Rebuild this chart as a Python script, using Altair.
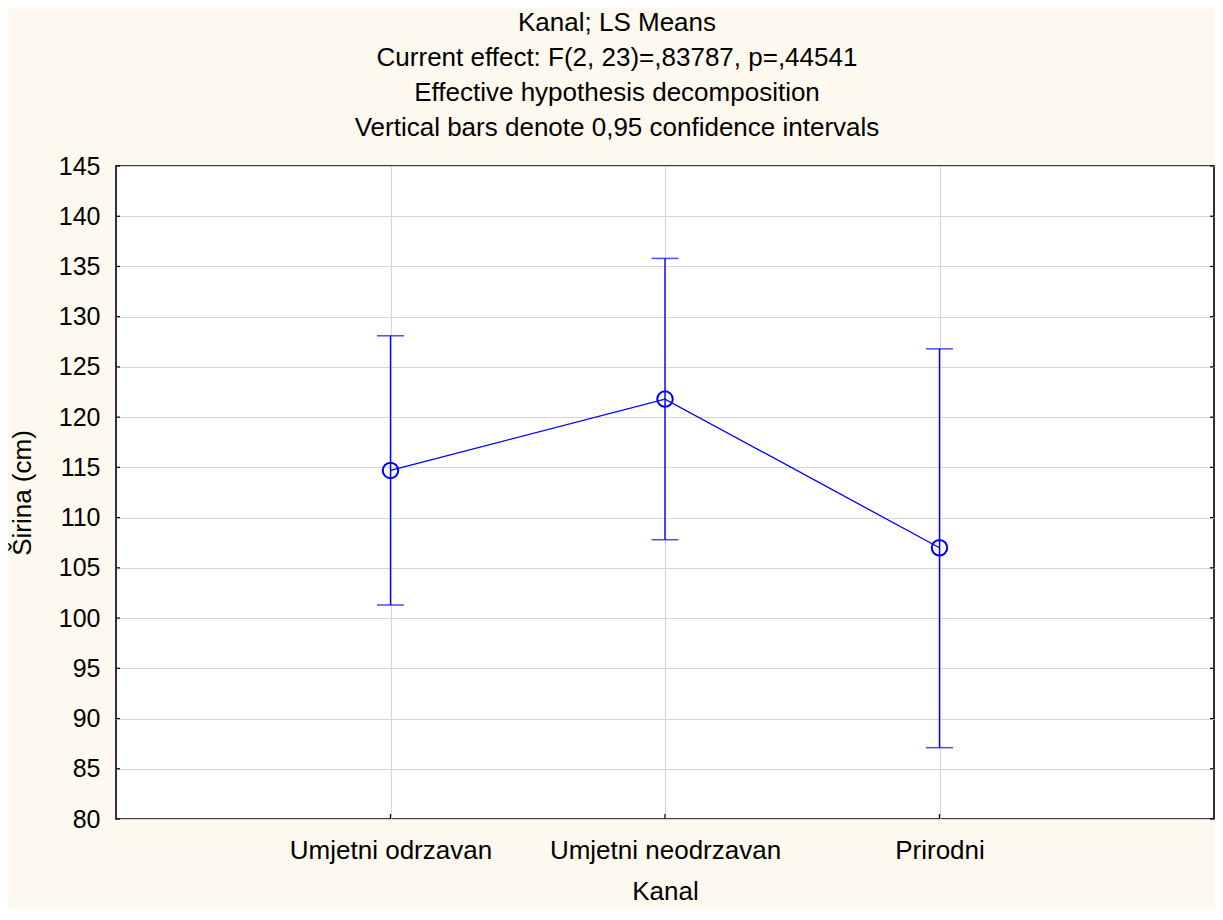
import altair as alt
import pandas as pd

# ---- data ----
categories = ["Umjetni odrzavan", "Umjetni neodrzavan", "Prirodni"]
means = [114.7, 121.8, 107.0]
lower = [101.3, 107.8, 87.1]
upper = [128.1, 135.8, 126.8]
y_ticks = list(range(80, 146, 5))

title_lines = [
    "Kanal; LS Means",
    "Current effect: F(2, 23)=,83787, p=,44541",
    "Effective hypothesis decomposition",
    "Vertical bars denote 0,95 confidence intervals",
]

df = pd.DataFrame({"Kanal": categories, "mean": means, "lo": lower, "hi": upper})
ticks_df = pd.DataFrame({"v": y_ticks})

W, H = 1098, 653
FONT = "Liberation Sans"
BLUE = "#0000FF"
GRID = "#D6D6D6"

x_enc = alt.X(
    "Kanal:N",
    sort=categories,
    scale=alt.Scale(type="point", padding=1),
    axis=alt.Axis(
        title="Kanal", labelAngle=0, labelFont=FONT, labelFontSize=26,
        labelColor="black", labelPadding=18, labelLimit=400, labelOverlap=False,
        ticks=False, domain=False, grid=True, gridColor=GRID, gridWidth=1.2,
        titleFont=FONT, titleFontSize=26, titleFontWeight="normal", titleColor="black",
        titleX=W / 2, titleY=72, titleBaseline="middle",
    ),
)

y_scale = alt.Scale(domain=[80, 145], nice=False, zero=False)
y_axis = alt.Axis(
    title="Širina (cm)", values=y_ticks, labelFont=FONT, labelFontSize=25,
    labelColor="black", labelPadding=16, ticks=False, domain=False,
    grid=True, gridColor=GRID, gridWidth=1.2,
    titleFont=FONT, titleFontSize=26, titleFontWeight="normal", titleColor="black",
    titleX=-94, titleY=H / 2, titleAngle=270, titleBaseline="middle", titleAlign="center",
)

def Y(field):
    return alt.Y(field, scale=y_scale, axis=y_axis)

base = alt.Chart(df)

err = base.mark_rule(color=BLUE, strokeWidth=1.4).encode(x=x_enc, y=Y("lo:Q"), y2="hi:Q")
cap_lo = base.mark_tick(color=BLUE, size=27, thickness=1.5, orient="horizontal").encode(x=x_enc, y=Y("lo:Q"))
cap_hi = base.mark_tick(color=BLUE, size=27, thickness=1.5, orient="horizontal").encode(x=x_enc, y=Y("hi:Q"))
line = base.mark_line(color=BLUE, strokeWidth=1.3).encode(x=x_enc, y=Y("mean:Q"))
pts = base.mark_point(shape="circle", filled=False, size=240, strokeWidth=2,
                      color=BLUE, opacity=1).encode(x=x_enc, y=Y("mean:Q"))

# small inward ticks on the frame
tick_left = alt.Chart(ticks_df).mark_rule(color="black", strokeWidth=1.2).encode(
    y=Y("v:Q"), x=alt.value(0), x2=alt.value(4))
tick_right = alt.Chart(ticks_df).mark_rule(color="black", strokeWidth=1.2).encode(
    y=Y("v:Q"), x=alt.value(W - 4), x2=alt.value(W))
tick_bottom = base.mark_rule(color="black", strokeWidth=1.2).encode(
    x=x_enc, y=alt.value(H - 5), y2=alt.value(H))

chart = (
    alt.layer(err, cap_lo, cap_hi, line, pts, tick_left, tick_right, tick_bottom)
    .properties(
        width=W, height=H,
        title=alt.TitleParams(
            text=title_lines, font=FONT, fontSize=26, fontWeight="normal",
            color="black", lineHeight=35, anchor="middle", dx=-48, offset=13,
        ),
        autosize=alt.AutoSizeParams(type="none"),
        padding={"left": 108, "top": 158, "right": 1, "bottom": 90},
        background="#FDF9EE",
    )
    .configure_view(fill="white", stroke="black", strokeWidth=1.6)
)

chart.save("out.html", embed_options={"renderer": "svg", "actions": False})
